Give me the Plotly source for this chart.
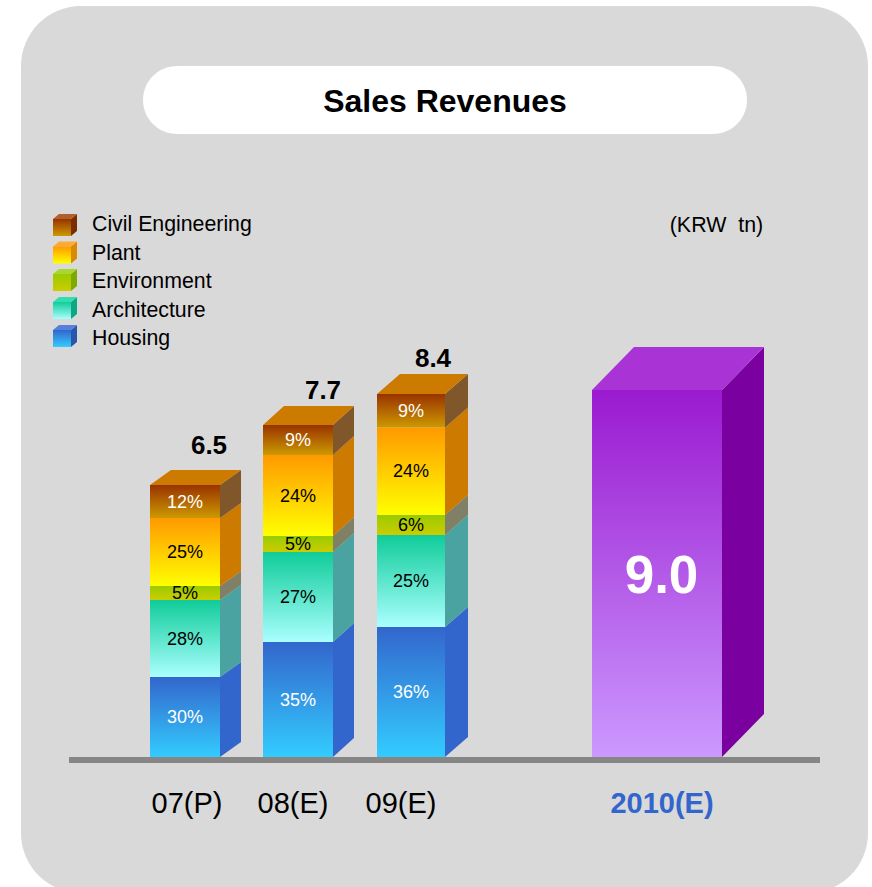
import plotly.graph_objects as go

# ---- data ----
periods = ["07(P)", "08(E)", "09(E)"]
forecast_period = "2010(E)"
totals = ["6.5", "7.7", "8.4"]
forecast_total = "9.0"
series_names = ["Housing", "Architecture", "Environment", "Plant", "Civil Engineering"]
housing_h = [80, 115, 130]
architecture_h = [77, 90, 92]
environment_h = [14, 16, 20]
plant_h = [68, 81, 87.5]
civil_h = [33, 30, 33.5]
forecast_h = 367
housing_pct = ["30%", "35%", "36%"]
architecture_pct = ["28%", "27%", "25%"]
environment_pct = ["5%", "5%", "6%"]
plant_pct = ["25%", "24%", "24%"]
civil_pct = ["12%", "9%", "9%"]

# ---- styling ----
H = 887
BASE = 757  # pixel row of y = 0
FONT = "Liberation Sans"
seg_style = [  # top colour, bottom colour, side colour, label colour
    ("#3366CC", "#33CCFF", "#3366CC", "white"),
    ("#0FCC99", "#AAFFFF", "#4AA3A0", "black"),
    ("#99CC00", "#CCCC00", "#808066", "black"),
    ("#FF9900", "#FFFF00", "#CC7A00", "black"),
    ("#993300", "#CC9900", "#80562B", "white"),
]
icon_side = ["#2A55AA", "#0BA883", "#7FA800", "#D98A00", "#7A2E00"]
icon_top = ["#5580DD", "#33DDB0", "#AAD633", "#FFAA33", "#B0602E"]
TOP_ORANGE = "#CC7A00"
bar_x = [(150, 220, 21, 15), (263, 333, 21, 19), (377, 445, 23, 20)]
fc_x = (592, 722, 42, 43)
LEG_TEXT_ROWS = [338, 309.5, 281, 253, 224]
LEG_ICON_BOTTOMS = [347, 319, 291, 263.5, 236]

fig = go.Figure()


def poly(xs, ys, color=None, grad=None):
    kw = dict(x=xs + xs[:1], y=ys + ys[:1], mode="none", fill="toself",
              hoverinfo="skip", showlegend=False)
    if grad:
        kw["fillgradient"] = dict(type="vertical", colorscale=[[0, grad[1]], [1, grad[0]]],
                                  start=min(ys), stop=max(ys))
    else:
        kw["fillcolor"] = color
    fig.add_trace(go.Scatter(**kw))


def box(x0, x1, dx, dy, y0, y1, grad, side):
    poly([x1, x1 + dx, x1 + dx, x1], [y0, y0 + dy, y1 + dy, y1], color=side)
    poly([x0, x1, x1, x0], [y0, y0, y1, y1], grad=grad)


def text_trace(xs, ys, labels, size, color, bold=False):
    fig.add_trace(go.Scatter(
        x=xs, y=ys, text=labels, mode="text", textposition="middle center",
        textfont=dict(family=FONT, size=size, color=color, weight="bold" if bold else "normal"),
        hoverinfo="skip", showlegend=False))


def rounded(x0, y0, x1, y1, r):
    # y values in axis units (y0 lower)
    k = 0.5523 * r
    return (f"M{x0 + r},{y1} L{x1 - r},{y1} C{x1 - r + k},{y1} {x1},{y1 - r + k} {x1},{y1 - r} "
            f"L{x1},{y0 + r} C{x1},{y0 + r - k} {x1 - r + k},{y0} {x1 - r},{y0} "
            f"L{x0 + r},{y0} C{x0 + r - k},{y0} {x0},{y0 + r - k} {x0},{y0 + r} "
            f"L{x0},{y1 - r} C{x0},{y1 - r + k} {x0 + r - k},{y1} {x0 + r},{y1} Z")


heights = [housing_h, architecture_h, environment_h, plant_h, civil_h]
pcts = [housing_pct, architecture_pct, environment_pct, plant_pct, civil_pct]

# stacked 3-D bars
for b, (x0, x1, dx, dy) in enumerate(bar_x):
    base = 0
    for s, hs in enumerate(heights):
        st = seg_style[s]
        box(x0, x1, dx, dy, base, base + hs[b], (st[0], st[1]), st[2])
        base += hs[b]
    poly([x0, x1, x1 + dx, x0 + dx], [base, base, base + dy, base + dy], color=TOP_ORANGE)

# forecast bar
x0, x1, dx, dy = fc_x
box(x0, x1, dx, dy, 0, forecast_h, ("#9A1AD0", "#CC99FF"), "#7A00A0")
poly([x0, x1, x1 + dx, x0 + dx], [forecast_h, forecast_h, forecast_h + dy, forecast_h + dy], color="#AA33D6")

# segment labels
for s, hs in enumerate(heights):
    xs, ys = [], []
    for b, (x0, x1, dx, dy) in enumerate(bar_x):
        base = sum(heights[k][b] for k in range(s))
        xs.append((x0 + x1) / 2)
        ys.append(base + hs[b] / 2 - 1.5)
    text_trace(xs, ys, pcts[s], 18, seg_style[s][3])

# legend
for s, name in enumerate(series_names):
    st = seg_style[s]
    fx0, fx1 = 53, 71
    ybot = BASE - LEG_ICON_BOTTOMS[s]
    ytop = ybot + 17
    poly([fx1, fx1 + 6, fx1 + 6, fx1], [ybot, ybot + 5, ytop + 5, ytop], color=icon_side[s])
    poly([fx0, fx1, fx1 + 6, fx0 + 6], [ytop, ytop, ytop + 5, ytop + 5], color=icon_top[s])
    poly([fx0, fx1, fx1, fx0], [ybot, ybot, ytop, ytop], grad=(st[0], st[1]))

anns = []
for s, name in enumerate(series_names):
    anns.append(dict(x=90, y=BASE - LEG_TEXT_ROWS[s], text=name, showarrow=False, xanchor="left",
                     yanchor="middle", font=dict(family=FONT, size=21.3, color="black")))

text_trace([209, 323, 433], [BASE - 447, BASE - 392, BASE - 360], totals, 26, "black", bold=True)
text_trace([661.5], [BASE - 580], [forecast_total], 53, "white", bold=True)
text_trace([187, 293, 401], [BASE - 806] * 3, periods, 29, "black")
text_trace([662], [BASE - 806], [forecast_period], 29, "#3366CC", bold=True)
text_trace([445], [BASE - 104], ["Sales Revenues"], 32, "black", bold=True)
text_trace([716.5], [BASE - 227], ["(KRW  tn)"], 21.4, "black")

shapes = [
    dict(type="path", path=rounded(21, BASE - 893, 868, BASE - 6, 60), fillcolor="#D9D9D9",
         line=dict(width=0), layer="below"),
    dict(type="path", path=rounded(143, BASE - 134, 747, BASE - 66, 34), fillcolor="white",
         line=dict(width=0), layer="below"),
    dict(type="rect", x0=69, x1=820, y0=BASE - 763, y1=BASE - 757, fillcolor="#868686",
         line=dict(width=0), layer="above"),
]

fig.update_layout(
    width=872, height=H, margin=dict(l=0, r=0, t=0, b=0),
    paper_bgcolor="white", plot_bgcolor="white", showlegend=False,
    xaxis=dict(range=[0, 872], visible=False, fixedrange=True),
    yaxis=dict(range=[BASE - H, BASE], visible=False, fixedrange=True),
    shapes=shapes, annotations=anns,
)
fig.write_html("out.html", config={"displayModeBar": False},
               post_script="document.body.style.margin='0';document.body.style.overflow='hidden';")
